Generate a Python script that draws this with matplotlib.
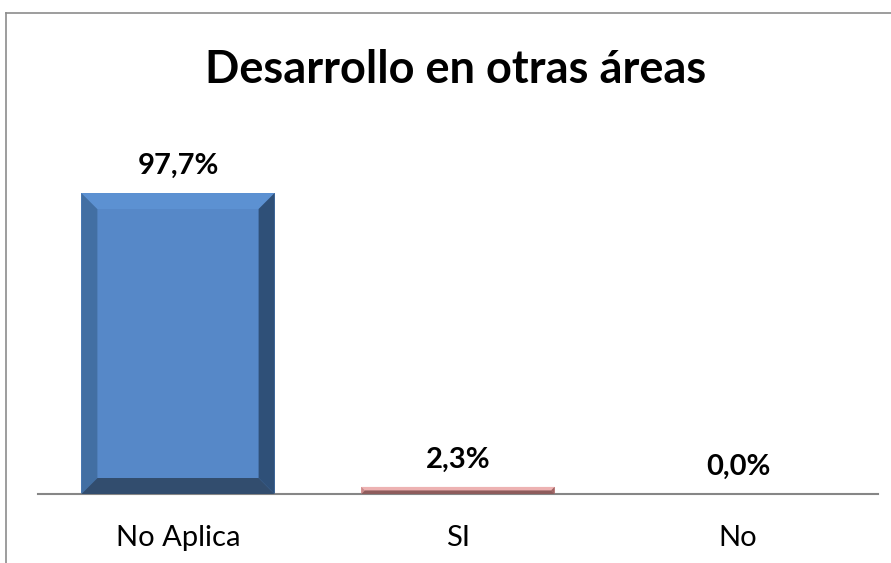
import matplotlib
matplotlib.use("Agg")
import matplotlib.pyplot as plt
from matplotlib.patches import Polygon
from matplotlib.lines import Line2D
import numpy as np

categories = ["No Aplica", "SI", "No"]
values = [97.7, 2.3, 0.0]
labels = ["97,7%", "2,3%", "0,0%"]
title = "Desarrollo en otras áreas"

face_colors = ["#5688C8", "#E6A2A2", "#7F7F7F"]
left_colors = ["#426FA3", "#C98A8A", "#6A6A6A"]
top_colors = ["#5C91D2", "#EDB2B2", "#8A8A8A"]
right_colors = ["#2F5078", "#9E6464", "#555555"]
bottom_colors = ["#324D6E", "#8E5C5C", "#4F4F4F"]

FONT = ["Lato", "DejaVu Sans"]
W, H = 891, 563
fig = plt.figure(figsize=(W / 100, H / 100), dpi=100)
fig.patch.set_facecolor("white")

ax = fig.add_axes([38 / W, 1 - 494 / H, 840 / W, 370 / H])
ax.set_xlim(-0.5, 2.5)
ax.set_ylim(0, 120.1)
for s in ["top", "right", "left"]:
    ax.spines[s].set_visible(False)
ax.spines["bottom"].set_color("#868686")
ax.spines["bottom"].set_linewidth(1.5)
ax.set_yticks([])
x = np.arange(len(categories))
ax.set_xticks(x)
ax.set_xticklabels(categories, fontsize=21, family=FONT)
ax.tick_params(axis="x", length=0, pad=22)

bars = ax.bar(x, values, width=0.69, color=face_colors, zorder=2)

fig.canvas.draw()
bev = 16.0
for i, b in enumerate(bars):
    if values[i] <= 0:
        continue
    x0, y0 = b.get_x(), b.get_y()
    x1, y1 = x0 + b.get_width(), y0 + b.get_height()
    (px0, py0) = ax.transData.transform((x0, y0))
    (px1, py1) = ax.transData.transform((x1, y1))
    hgt = py1 - py0
    bv = min(bev, hgt / 2.0)
    ix0, ix1 = px0 + bv, px1 - bv
    iy0, iy1 = py0 + bv, py1 - bv
    inv = ax.transData.inverted()
    def d(pts):
        return inv.transform(np.array(pts))
    polys = [
        ([(px0, py0), (ix0, iy0), (ix0, iy1), (px0, py1)], left_colors[i]),
        ([(px0, py1), (ix0, iy1), (ix1, iy1), (px1, py1)], top_colors[i]),
        ([(px1, py1), (ix1, iy1), (ix1, iy0), (px1, py0)], right_colors[i]),
        ([(px0, py0), (px1, py0), (ix1, iy0), (ix0, iy0)], bottom_colors[i]),
    ]
    for pts, c in polys:
        ax.add_patch(Polygon(d(pts), closed=True, facecolor=c, edgecolor="none", zorder=3))

for i, v in enumerate(values):
    ax.annotate(labels[i], (x[i], v), xytext=(0, 10), textcoords="offset points",
                ha="center", va="bottom", fontsize=21, fontweight="bold",
                family=FONT)

fig.text(456 / W, 1 - 70 / H, title, ha="center", va="center", fontsize=32.5,
         fontweight="bold", family=FONT)

# chart frame (left and top edges visible)
fig.add_artist(Line2D([6 / W, 6 / W], [0, 1 - 13 / H], transform=fig.transFigure,
                      color="#8C8C8C", lw=1.2))
fig.add_artist(Line2D([6 / W, 1], [1 - 13 / H, 1 - 13 / H], transform=fig.transFigure,
                      color="#8C8C8C", lw=1.2))

fig.savefig("out.png", dpi=100)
